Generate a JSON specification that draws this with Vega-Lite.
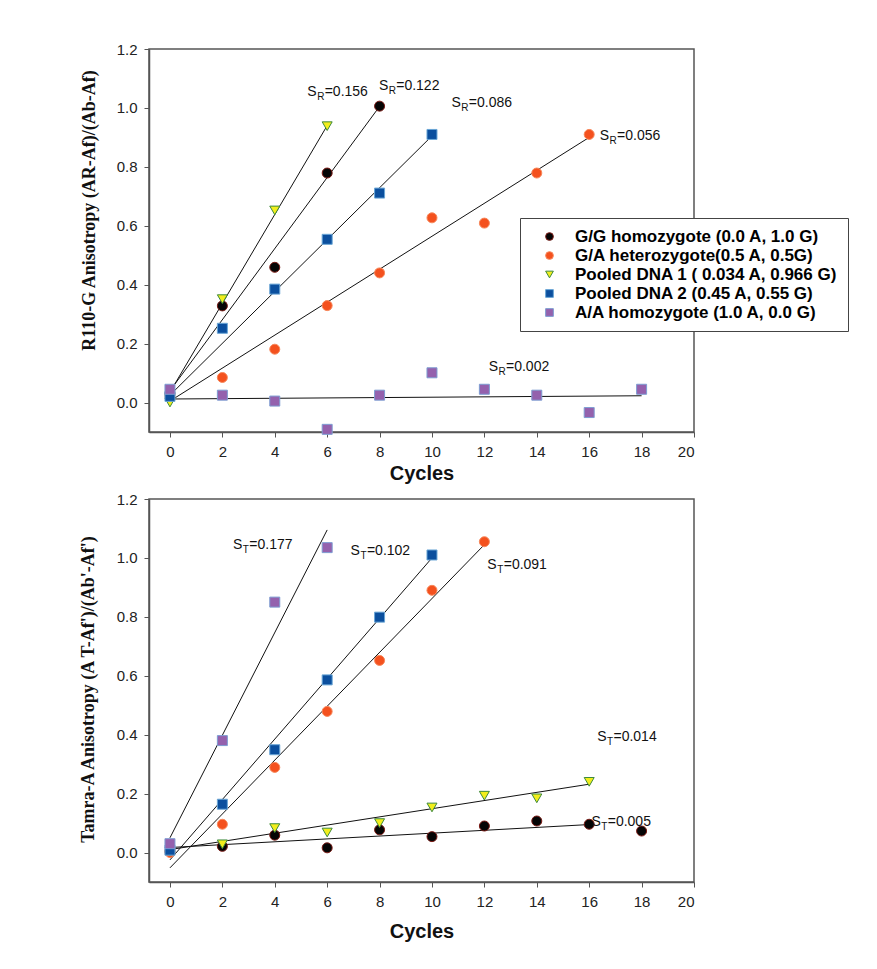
{
  "$schema": "https://vega.github.io/schema/vega-lite/v6.json",
  "background": "white",
  "padding": {"left": 78, "top": 41, "right": 5, "bottom": 5},
  "spacing": 7,
  "datasets": {
    "top_pts": [
      {"series": "G/G homozygote (0.0 A, 1.0 G)", "cycle": 0, "value": 0.03},
      {"series": "G/G homozygote (0.0 A, 1.0 G)", "cycle": 2, "value": 0.328},
      {"series": "G/G homozygote (0.0 A, 1.0 G)", "cycle": 4, "value": 0.459},
      {"series": "G/G homozygote (0.0 A, 1.0 G)", "cycle": 6, "value": 0.779},
      {"series": "G/G homozygote (0.0 A, 1.0 G)", "cycle": 8, "value": 1.006},
      {"series": "G/A heterozygote(0.5 A, 0.5G)", "cycle": 0, "value": 0.02},
      {"series": "G/A heterozygote(0.5 A, 0.5G)", "cycle": 2, "value": 0.085},
      {"series": "G/A heterozygote(0.5 A, 0.5G)", "cycle": 4, "value": 0.181},
      {"series": "G/A heterozygote(0.5 A, 0.5G)", "cycle": 6, "value": 0.329},
      {"series": "G/A heterozygote(0.5 A, 0.5G)", "cycle": 8, "value": 0.44},
      {"series": "G/A heterozygote(0.5 A, 0.5G)", "cycle": 10, "value": 0.627},
      {"series": "G/A heterozygote(0.5 A, 0.5G)", "cycle": 12, "value": 0.609},
      {"series": "G/A heterozygote(0.5 A, 0.5G)", "cycle": 14, "value": 0.779},
      {"series": "G/A heterozygote(0.5 A, 0.5G)", "cycle": 16, "value": 0.91},
      {"series": "Pooled DNA 1 ( 0.034 A, 0.966 G)", "cycle": 0, "value": 0.0},
      {"series": "Pooled DNA 1 ( 0.034 A, 0.966 G)", "cycle": 2, "value": 0.351},
      {"series": "Pooled DNA 1 ( 0.034 A, 0.966 G)", "cycle": 4, "value": 0.652},
      {"series": "Pooled DNA 1 ( 0.034 A, 0.966 G)", "cycle": 6, "value": 0.938},
      {"series": "Pooled DNA 2 (0.45 A, 0.55 G)", "cycle": 0, "value": 0.021},
      {"series": "Pooled DNA 2 (0.45 A, 0.55 G)", "cycle": 2, "value": 0.252},
      {"series": "Pooled DNA 2 (0.45 A, 0.55 G)", "cycle": 4, "value": 0.385},
      {"series": "Pooled DNA 2 (0.45 A, 0.55 G)", "cycle": 6, "value": 0.554},
      {"series": "Pooled DNA 2 (0.45 A, 0.55 G)", "cycle": 8, "value": 0.711},
      {"series": "Pooled DNA 2 (0.45 A, 0.55 G)", "cycle": 10, "value": 0.91},
      {"series": "A/A homozygote (1.0 A, 0.0 G)", "cycle": 0, "value": 0.045},
      {"series": "A/A homozygote (1.0 A, 0.0 G)", "cycle": 2, "value": 0.025},
      {"series": "A/A homozygote (1.0 A, 0.0 G)", "cycle": 4, "value": 0.005},
      {"series": "A/A homozygote (1.0 A, 0.0 G)", "cycle": 6, "value": -0.091},
      {"series": "A/A homozygote (1.0 A, 0.0 G)", "cycle": 8, "value": 0.025},
      {"series": "A/A homozygote (1.0 A, 0.0 G)", "cycle": 10, "value": 0.101},
      {"series": "A/A homozygote (1.0 A, 0.0 G)", "cycle": 12, "value": 0.045},
      {"series": "A/A homozygote (1.0 A, 0.0 G)", "cycle": 14, "value": 0.025},
      {"series": "A/A homozygote (1.0 A, 0.0 G)", "cycle": 16, "value": -0.034},
      {"series": "A/A homozygote (1.0 A, 0.0 G)", "cycle": 18, "value": 0.045}
    ],
    "top_lines": [
      {"fit": "P1", "cycle": 0, "value": 0.035},
      {"fit": "P1", "cycle": 6, "value": 0.94},
      {"fit": "GG", "cycle": 0, "value": 0.04},
      {"fit": "GG", "cycle": 8, "value": 1.005},
      {"fit": "P2", "cycle": 0, "value": 0.025},
      {"fit": "P2", "cycle": 10, "value": 0.905},
      {"fit": "GA", "cycle": 0, "value": 0.005},
      {"fit": "GA", "cycle": 16, "value": 0.9},
      {"fit": "AA", "cycle": 0, "value": 0.012},
      {"fit": "AA", "cycle": 18, "value": 0.023}
    ],
    "top_ann": [
      {"cycle": 5.6, "value": 1.053, "sub": "R", "val": "=0.156"},
      {"cycle": 8.33, "value": 1.076, "sub": "R", "val": "=0.122"},
      {"cycle": 11.1, "value": 1.017, "sub": "R", "val": "=0.086"},
      {"cycle": 16.76, "value": 0.904, "sub": "R", "val": "=0.056"},
      {"cycle": 12.52, "value": 0.119, "sub": "R", "val": "=0.002"}
    ],
    "bot_pts": [
      {"series": "G/G homozygote (0.0 A, 1.0 G)", "cycle": 0, "value": 0.005},
      {"series": "G/G homozygote (0.0 A, 1.0 G)", "cycle": 2, "value": 0.021},
      {"series": "G/G homozygote (0.0 A, 1.0 G)", "cycle": 4, "value": 0.059},
      {"series": "G/G homozygote (0.0 A, 1.0 G)", "cycle": 6, "value": 0.016},
      {"series": "G/G homozygote (0.0 A, 1.0 G)", "cycle": 8, "value": 0.077},
      {"series": "G/G homozygote (0.0 A, 1.0 G)", "cycle": 10, "value": 0.054},
      {"series": "G/G homozygote (0.0 A, 1.0 G)", "cycle": 12, "value": 0.09},
      {"series": "G/G homozygote (0.0 A, 1.0 G)", "cycle": 14, "value": 0.107},
      {"series": "G/G homozygote (0.0 A, 1.0 G)", "cycle": 16, "value": 0.096},
      {"series": "G/G homozygote (0.0 A, 1.0 G)", "cycle": 18, "value": 0.073},
      {"series": "G/A heterozygote(0.5 A, 0.5G)", "cycle": 0, "value": 0.0},
      {"series": "G/A heterozygote(0.5 A, 0.5G)", "cycle": 2, "value": 0.096},
      {"series": "G/A heterozygote(0.5 A, 0.5G)", "cycle": 4, "value": 0.289},
      {"series": "G/A heterozygote(0.5 A, 0.5G)", "cycle": 6, "value": 0.479},
      {"series": "G/A heterozygote(0.5 A, 0.5G)", "cycle": 8, "value": 0.652},
      {"series": "G/A heterozygote(0.5 A, 0.5G)", "cycle": 10, "value": 0.89},
      {"series": "G/A heterozygote(0.5 A, 0.5G)", "cycle": 12, "value": 1.055},
      {"series": "Pooled DNA 1 ( 0.034 A, 0.966 G)", "cycle": 0, "value": 0.003},
      {"series": "Pooled DNA 1 ( 0.034 A, 0.966 G)", "cycle": 2, "value": 0.028},
      {"series": "Pooled DNA 1 ( 0.034 A, 0.966 G)", "cycle": 4, "value": 0.083},
      {"series": "Pooled DNA 1 ( 0.034 A, 0.966 G)", "cycle": 6, "value": 0.068},
      {"series": "Pooled DNA 1 ( 0.034 A, 0.966 G)", "cycle": 8, "value": 0.1},
      {"series": "Pooled DNA 1 ( 0.034 A, 0.966 G)", "cycle": 10, "value": 0.153},
      {"series": "Pooled DNA 1 ( 0.034 A, 0.966 G)", "cycle": 12, "value": 0.193},
      {"series": "Pooled DNA 1 ( 0.034 A, 0.966 G)", "cycle": 14, "value": 0.184},
      {"series": "Pooled DNA 1 ( 0.034 A, 0.966 G)", "cycle": 16, "value": 0.24},
      {"series": "Pooled DNA 2 (0.45 A, 0.55 G)", "cycle": 0, "value": 0.008},
      {"series": "Pooled DNA 2 (0.45 A, 0.55 G)", "cycle": 2, "value": 0.164},
      {"series": "Pooled DNA 2 (0.45 A, 0.55 G)", "cycle": 4, "value": 0.349},
      {"series": "Pooled DNA 2 (0.45 A, 0.55 G)", "cycle": 6, "value": 0.586},
      {"series": "Pooled DNA 2 (0.45 A, 0.55 G)", "cycle": 8, "value": 0.799},
      {"series": "Pooled DNA 2 (0.45 A, 0.55 G)", "cycle": 10, "value": 1.01},
      {"series": "A/A homozygote (1.0 A, 0.0 G)", "cycle": 0, "value": 0.03},
      {"series": "A/A homozygote (1.0 A, 0.0 G)", "cycle": 2, "value": 0.38},
      {"series": "A/A homozygote (1.0 A, 0.0 G)", "cycle": 4, "value": 0.85},
      {"series": "A/A homozygote (1.0 A, 0.0 G)", "cycle": 6, "value": 1.035}
    ],
    "bot_lines": [
      {"fit": "AA", "cycle": 0, "value": 0.05},
      {"fit": "AA", "cycle": 6, "value": 1.095},
      {"fit": "P2", "cycle": 0, "value": -0.025},
      {"fit": "P2", "cycle": 10, "value": 1.0},
      {"fit": "GA", "cycle": 0, "value": -0.052},
      {"fit": "GA", "cycle": 12, "value": 1.045},
      {"fit": "P1", "cycle": 0, "value": 0.01},
      {"fit": "P1", "cycle": 16, "value": 0.232},
      {"fit": "GG", "cycle": 0, "value": 0.017},
      {"fit": "GG", "cycle": 16, "value": 0.095}
    ],
    "bot_ann": [
      {"cycle": 2.76, "value": 1.045, "sub": "T", "val": "=0.177"},
      {"cycle": 7.25, "value": 1.024, "sub": "T", "val": "=0.102"},
      {"cycle": 12.47, "value": 0.975, "sub": "T", "val": "=0.091"},
      {"cycle": 16.66, "value": 0.391, "sub": "T", "val": "=0.014"},
      {"cycle": 16.44, "value": 0.105, "sub": "T", "val": "=0.005"}
    ]
  },
  "config": {
    "view": {"stroke": "#555555", "strokeWidth": 1.5},
    "axis": {
      "grid": false,
      "domainColor": "#555555",
      "domainWidth": 1.5,
      "tickColor": "#555555",
      "tickSize": 5,
      "tickWidth": 1,
      "labelFont": "Liberation Sans",
      "labelFontSize": 15,
      "labelColor": "#222222",
      "titleColor": "#111111"
    },
    "axisX": {"labelPadding": 7, "titleFont": "Liberation Sans", "titleFontSize": 20, "titleFontWeight": "bold"},
    "axisY": {"labelPadding": 7, "titleFont": "Liberation Serif", "titleFontSize": 18, "titleFontWeight": "bold"},
    "text": {"font": "Liberation Sans", "color": "#111111"}
  },
  "resolve": {"scale": {"fill": "independent", "stroke": "independent", "shape": "independent"}},
  "vconcat": [
    {
      "width": 545,
      "height": 383,
      "encoding": {
        "x": {"field": "cycle", "type": "quantitative",
          "scale": {"domain": [-0.8, 20], "nice": false, "zero": false},
          "axis": {"values": [0, 2, 4, 6, 8, 10, 12, 14, 16, 18, 20], "title": "Cycles", "titlePadding": 4}},
        "y": {"field": "value", "type": "quantitative",
          "scale": {"domain": [-0.1, 1.2], "nice": false, "zero": false},
          "axis": {"values": [0, 0.2, 0.4, 0.6, 0.8, 1.0, 1.2], "format": ".1f",
            "title": "R110-G Anisotropy  (AR-Af)/(Ab-Af)",
            "titleX": -60, "titleY": 161, "titleBaseline": "middle", "titleAngle": 270, "titleAlign": "center"}}
      },
      "layer": [
        {
          "data": {"name": "top_lines"},
          "mark": {"type": "line", "color": "#111111", "strokeWidth": 1},
          "encoding": {"detail": {"field": "fit"}}
        },
        {
          "data": {"name": "top_pts"},
          "mark": {"type": "point", "filled": true, "size": 100, "strokeWidth": 1, "opacity": 1},
          "encoding": {
            "fill": {"field": "series", "type": "nominal",
              "scale": {"domain": ["G/G homozygote (0.0 A, 1.0 G)", "G/A heterozygote(0.5 A, 0.5G)", "Pooled DNA 1 ( 0.034 A, 0.966 G)", "Pooled DNA 2 (0.45 A, 0.55 G)", "A/A homozygote (1.0 A, 0.0 G)"],
                "range": ["#050505", "#f4511e", "#f2ee1c", "#0b4f9e", "#9461ad"]},
              "legend": {
                "title": null, "orient": "none", "legendX": 371, "legendY": 169,
                "fillColor": "white", "strokeColor": "#444444", "padding": 10,
                "symbolOffset": 11, "labelOffset": 17, "symbolSize": 60, "rowPadding": 1,
                "symbolStrokeWidth": 1,
                "labelFont": "Liberation Sans", "labelFontSize": 17, "labelFontWeight": "bold", "labelLimit": 500,
                "encode": {"labels": {"update": {"fill": {"signal": "indexof(datum.label,'G/G')==0 ? '#111111' : indexof(datum.label,'G/A')==0 ? '#e63c28' : indexof(datum.label,'Pooled DNA 1')==0 ? '#8a8332' : indexof(datum.label,'Pooled DNA 2')==0 ? '#2a4ea2' : '#9a62b6'"}}}}
              }},
            "stroke": {"field": "series", "type": "nominal",
              "scale": {"domain": ["G/G homozygote (0.0 A, 1.0 G)", "G/A heterozygote(0.5 A, 0.5G)", "Pooled DNA 1 ( 0.034 A, 0.966 G)", "Pooled DNA 2 (0.45 A, 0.55 G)", "A/A homozygote (1.0 A, 0.0 G)"],
                "range": ["#7a1a14", "#f7875a", "#3d8a3d", "#6aa6d6", "#7e9dd2"]},
              "legend": {"title": null}},
            "shape": {"field": "series", "type": "nominal",
              "scale": {"domain": ["G/G homozygote (0.0 A, 1.0 G)", "G/A heterozygote(0.5 A, 0.5G)", "Pooled DNA 1 ( 0.034 A, 0.966 G)", "Pooled DNA 2 (0.45 A, 0.55 G)", "A/A homozygote (1.0 A, 0.0 G)"],
                "range": ["circle", "circle", "triangle-down", "square", "square"]},
              "legend": {"title": null}}
          }
        },
        {
          "data": {"name": "top_ann"},
          "mark": {"type": "text", "text": "S", "align": "right", "baseline": "middle", "fontSize": 14}
        },
        {
          "data": {"name": "top_ann"},
          "mark": {"type": "text", "align": "left", "baseline": "middle", "fontSize": 10, "dx": 0.5, "dy": 5},
          "encoding": {"text": {"field": "sub"}}
        },
        {
          "data": {"name": "top_ann"},
          "mark": {"type": "text", "align": "left", "baseline": "middle", "fontSize": 14, "dx": 8},
          "encoding": {"text": {"field": "val"}}
        }
      ]
    },
    {
      "width": 545,
      "height": 383,
      "encoding": {
        "x": {"field": "cycle", "type": "quantitative",
          "scale": {"domain": [-0.8, 20], "nice": false, "zero": false},
          "axis": {"values": [0, 2, 4, 6, 8, 10, 12, 14, 16, 18, 20], "title": "Cycles", "titlePadding": 12}},
        "y": {"field": "value", "type": "quantitative",
          "scale": {"domain": [-0.1, 1.2], "nice": false, "zero": false},
          "axis": {"values": [0, 0.2, 0.4, 0.6, 0.8, 1.0, 1.2], "format": ".1f",
            "title": "Tamra-A Anisotropy  (A T-Af')/(Ab'-Af')",
            "titleX": -61, "titleY": 190, "titleBaseline": "middle", "titleAngle": 270, "titleAlign": "center"}}
      },
      "layer": [
        {
          "data": {"name": "bot_lines"},
          "mark": {"type": "line", "color": "#111111", "strokeWidth": 1},
          "encoding": {"detail": {"field": "fit"}}
        },
        {
          "data": {"name": "bot_pts"},
          "mark": {"type": "point", "filled": true, "size": 100, "strokeWidth": 1, "opacity": 1},
          "encoding": {
            "fill": {"field": "series", "type": "nominal",
              "scale": {"domain": ["G/G homozygote (0.0 A, 1.0 G)", "G/A heterozygote(0.5 A, 0.5G)", "Pooled DNA 1 ( 0.034 A, 0.966 G)", "Pooled DNA 2 (0.45 A, 0.55 G)", "A/A homozygote (1.0 A, 0.0 G)"],
                "range": ["#050505", "#f4511e", "#f2ee1c", "#0b4f9e", "#9461ad"]},
              "legend": null},
            "stroke": {"field": "series", "type": "nominal",
              "scale": {"domain": ["G/G homozygote (0.0 A, 1.0 G)", "G/A heterozygote(0.5 A, 0.5G)", "Pooled DNA 1 ( 0.034 A, 0.966 G)", "Pooled DNA 2 (0.45 A, 0.55 G)", "A/A homozygote (1.0 A, 0.0 G)"],
                "range": ["#7a1a14", "#f7875a", "#3d8a3d", "#6aa6d6", "#7e9dd2"]},
              "legend": null},
            "shape": {"field": "series", "type": "nominal",
              "scale": {"domain": ["G/G homozygote (0.0 A, 1.0 G)", "G/A heterozygote(0.5 A, 0.5G)", "Pooled DNA 1 ( 0.034 A, 0.966 G)", "Pooled DNA 2 (0.45 A, 0.55 G)", "A/A homozygote (1.0 A, 0.0 G)"],
                "range": ["circle", "circle", "triangle-down", "square", "square"]},
              "legend": null}
          }
        },
        {
          "data": {"name": "bot_ann"},
          "mark": {"type": "text", "text": "S", "align": "right", "baseline": "middle", "fontSize": 14}
        },
        {
          "data": {"name": "bot_ann"},
          "mark": {"type": "text", "align": "left", "baseline": "middle", "fontSize": 10, "dx": 0.5, "dy": 5},
          "encoding": {"text": {"field": "sub"}}
        },
        {
          "data": {"name": "bot_ann"},
          "mark": {"type": "text", "align": "left", "baseline": "middle", "fontSize": 14, "dx": 7},
          "encoding": {"text": {"field": "val"}}
        }
      ]
    }
  ]
}
